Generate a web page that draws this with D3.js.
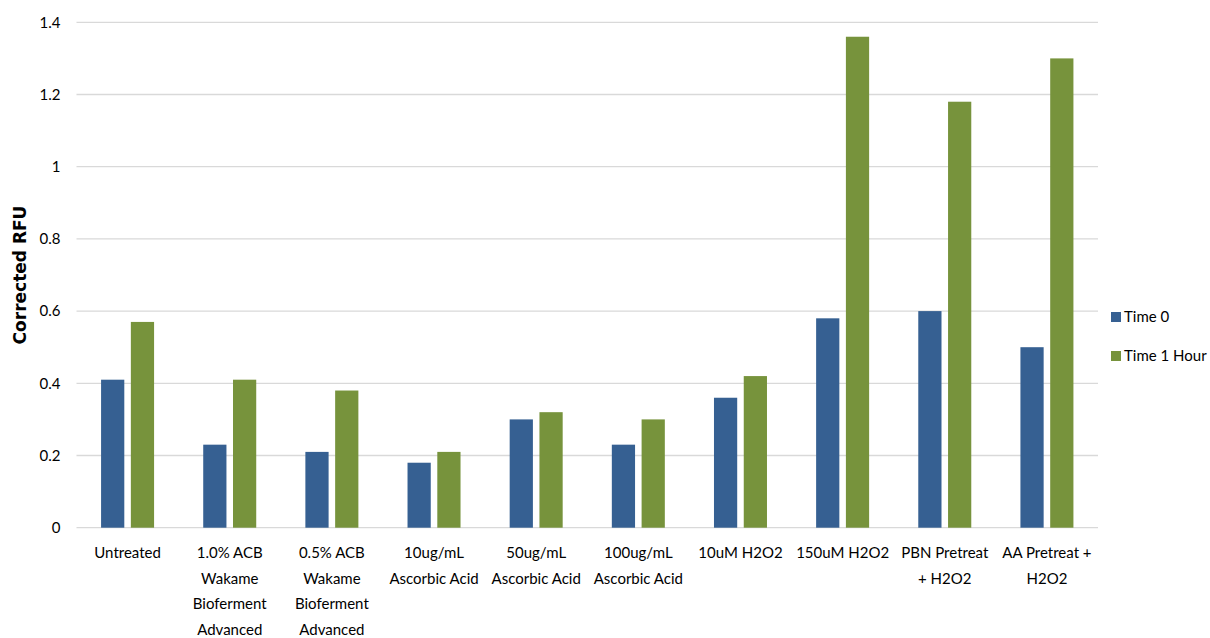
<!DOCTYPE html>
<html>
<head>
<meta charset="utf-8">
<script src="https://cdn.jsdelivr.net/npm/d3@7"></script>
<style>
  body { margin: 0; background: #fff; }
  svg { font-family: Lato, "Open Sans", sans-serif; }
  .tick text { fill: #000; }
</style>
</head>
<body>
<svg width="1210" height="638"></svg>
<script>
var categories = ["Untreated", "1.0% ACB Wakame Bioferment Advanced", "0.5% ACB Wakame Bioferment Advanced",
  "10ug/mL Ascorbic Acid", "50ug/mL Ascorbic Acid", "100ug/mL Ascorbic Acid", "10uM H2O2",
  "150uM H2O2", "PBN Pretreat + H2O2", "AA Pretreat + H2O2"];
var seriesNames = ["Time 0", "Time 1 Hour"];
var time0 = [0.41, 0.23, 0.21, 0.18, 0.30, 0.23, 0.36, 0.58, 0.60, 0.50];
var time1 = [0.57, 0.41, 0.38, 0.21, 0.32, 0.30, 0.42, 1.36, 1.18, 1.30];
var yTicks = [0, 0.2, 0.4, 0.6, 0.8, 1, 1.2, 1.4];
var colors = ["#366092", "#77933c"];

var svg = d3.select("svg");
var plotLeft = 76.5, plotRight = 1098, plotTop = 22.3, plotBottom = 527.7;
var labelFont = "Lato, 'Open Sans', sans-serif";

var x = d3.scaleBand().domain(categories).range([plotLeft, plotRight]);
var x1 = d3.scaleBand().domain(seriesNames).range([x.bandwidth()/2 - 26.5, x.bandwidth()/2 + 26.5]).paddingInner(0.22);
var y = d3.scaleLinear().domain([0, 1.4]).range([plotBottom, plotTop]);

// gridlines
svg.append("g")
  .selectAll("line")
  .data(yTicks)
  .enter()
  .append("line")
  .attr("x1", plotLeft)
  .attr("x2", plotRight)
  .attr("y1", d => y(d))
  .attr("y2", d => y(d))
  .attr("stroke", "#d9d9d9")
  .attr("stroke-width", 1.3);

// y axis labels
var yAxis = svg.append("g")
  .attr("transform", "translate(" + plotLeft + ",0)")
  .call(d3.axisLeft(y).tickValues(yTicks).tickSize(0).tickPadding(16).tickFormat(d3.format("")));
yAxis.attr("font-family", labelFont);
yAxis.select(".domain").remove();
yAxis.selectAll("text").style("font-size", "15px");

// bars
var data = categories.map(function(c, i) { return {cat: c, vals: [time0[i], time1[i]]}; });
var groups = svg.append("g")
  .selectAll("g")
  .data(data)
  .enter()
  .append("g")
  .attr("transform", d => "translate(" + x(d.cat) + ",0)");

groups.selectAll("rect")
  .data(d => d.vals.map((v, j) => ({name: seriesNames[j], val: v, j: j})))
  .enter()
  .append("rect")
  .attr("x", d => x1(d.name))
  .attr("width", x1.bandwidth())
  .attr("y", d => y(d.val))
  .attr("height", d => y(0) - y(d.val))
  .attr("fill", d => colors[d.j]);

// x axis
var xAxis = svg.append("g")
  .attr("transform", "translate(0," + plotBottom + ")")
  .call(d3.axisBottom(x).tickSize(0).tickPadding(20));
xAxis.attr("font-family", labelFont);
xAxis.select(".domain").remove();
xAxis.selectAll(".tick text")
  .style("font-size", "15px")
  .call(wrap, x.bandwidth() - 8);

function wrap(text, width) {
  text.each(function() {
    var t = d3.select(this);
    var words = t.text().split(/\s+/);
    var yy = t.attr("y");
    var dy = parseFloat(t.attr("dy"));
    t.text(null);
    var line = [], lineNo = 0;
    var tspan = t.append("tspan").attr("x", 0).attr("y", yy).attr("dy", dy + "em");
    words.forEach(function(w) {
      line.push(w);
      tspan.text(line.join(" "));
      if (tspan.node().getComputedTextLength() > width && line.length > 1) {
        line.pop();
        tspan.text(line.join(" "));
        line = [w];
        lineNo++;
        tspan = t.append("tspan").attr("x", 0).attr("y", yy)
          .attr("dy", (dy + lineNo * 1.7) + "em").text(w);
      }
    });
  });
}

// y title
svg.append("text")
  .attr("transform", "translate(26," + ((plotTop + plotBottom) / 2) + ") rotate(-90)")
  .attr("text-anchor", "middle")
  .style("font-family", "'DejaVu Sans', Verdana, sans-serif")
  .style("font-size", "17px")
  .style("font-weight", "bold")
  .text("Corrected RFU");

// legend
var legend = svg.append("g")
  .selectAll("g")
  .data(seriesNames)
  .enter()
  .append("g")
  .attr("transform", (d, i) => "translate(1111," + (312 + i * 39) + ")");
legend.append("rect")
  .attr("width", 10)
  .attr("height", 10)
  .attr("fill", (d, i) => colors[i]);
legend.append("text")
  .attr("x", 13)
  .attr("y", 10)
  .style("font-size", "15px")
  .text(d => d);
</script>
</body>
</html>
